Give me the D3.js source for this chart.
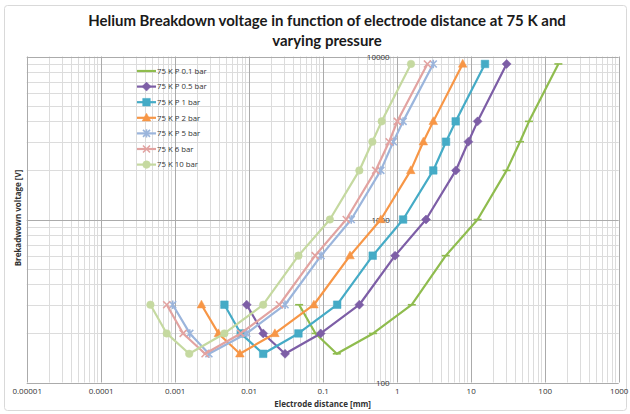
<!DOCTYPE html>
<html>
<head>
<meta charset="utf-8">
<script src="https://cdn.jsdelivr.net/npm/d3@7"></script>
<style>
body { margin: 0; background: #fff; }
svg { font-family: "Open Sans", "Noto Sans", sans-serif; }
</style>
</head>
<body>
<div id="chart"></div>
<script>
// breakdown voltage levels shared by every series [V]
var voltages = [300, 200, 150, 200, 300, 600, 1000, 2000, 3000, 4000, 9000];

// electrode distance [mm] per series
var dist01 = [0.048, 0.08, 0.155, 0.48, 1.6, 4.6, 12.4, 30.6, 46.4, 61.4, 153];
var dist05 = [0.0094, 0.0157, 0.031, 0.094, 0.313, 0.95, 2.49, 6.3, 9.3, 12.4, 30.6];
var dist1 = [0.0047, 0.0078, 0.0157, 0.047, 0.157, 0.474, 1.22, 3.12, 4.64, 6.27, 15.6];
var dist2 = [0.0023, 0.0039, 0.0076, 0.0226, 0.076, 0.234, 0.61, 1.55, 2.29, 3.12, 7.8];
var dist5 = [0.00094, 0.0016, 0.0029, 0.0094, 0.031, 0.095, 0.243, 0.61, 0.9, 1.22, 3.12];
var dist6 = [0.00078, 0.0013, 0.00257, 0.0078, 0.026, 0.079, 0.208, 0.52, 0.79, 1.02, 2.6];
var dist10 = [0.00047, 0.00078, 0.00157, 0.0047, 0.0157, 0.047, 0.125, 0.313, 0.469, 0.627, 1.56];

var seriesNames = ["75 K P 0.1 bar", "75 K P 0.5 bar", "75 K P 1 bar", "75 K P 2 bar",
    "75 K P 5 bar", "75 K 6 bar", "75 K 10 bar"];
var seriesDist = [dist01, dist05, dist1, dist2, dist5, dist6, dist10];
var seriesColors = ["#8fbc4e", "#7d5ea6", "#45abc6", "#f79646", "#9bb5dc", "#e2a3a1", "#c5d9a0"];
var seriesMarkers = ["dash", "diamond", "square", "triangle", "asterisk", "times", "circle"];

var xTicks = [0.00001, 0.0001, 0.001, 0.01, 0.1, 1, 10, 100, 1000];
var xTickLabels = ["0.00001", "0.0001", "0.001", "0.01", "0.1", "1", "10", "100", "1000"];
var yTicks = [100, 1000, 10000];
var yTickLabels = ["100", "1000", "10000"];

var W = 630, H = 414;
var plot = { left: 26.7, right: 618.7, top: 56.5, bottom: 382.5 };

var x = d3.scaleLog().domain([0.00001, 1000]).range([plot.left, plot.right]);
var y = d3.scaleLog().domain([100, 10000]).range([plot.bottom, plot.top]);

var svg = d3.select("#chart")
    .append("svg")
    .attr("width", W)
    .attr("height", H);

// chart border
svg.append("rect")
    .attr("x", 4.5)
    .attr("y", 5.5)
    .attr("width", 622)
    .attr("height", 405)
    .attr("rx", 3)
    .attr("fill", "#fff")
    .attr("stroke", "#d9d9d9");

// title, scaled to the width it has in the picture
var title = svg.append("text")
    .attr("text-anchor", "middle")
    .attr("font-family", "Lato, Open Sans, sans-serif")
    .attr("font-weight", "bold")
    .attr("font-size", 15)
    .attr("fill", "#1a1a1a");
var t1 = title.append("tspan").attr("x", 327).attr("y", 26)
    .text("Helium Breakdown voltage in function of electrode distance at 75 K and");
title.append("tspan").attr("x", 327).attr("y", 46)
    .text("varying pressure");
var tw = t1.node().getComputedTextLength();
if (tw > 0) title.attr("font-size", 15 * 478 / tw);

// grid lines
function minorValues(lo, hi) {
    var out = [];
    for (var e = lo; e < hi; e++) {
        for (var m = 2; m <= 9; m++) out.push(m * Math.pow(10, e));
    }
    return out;
}
var grid = svg.append("g");
grid.selectAll(".vminor")
    .data(minorValues(-5, 3))
    .enter().append("line")
    .attr("x1", function (d) { return Math.round(x(d)) + 0.5; })
    .attr("x2", function (d) { return Math.round(x(d)) + 0.5; })
    .attr("y1", plot.top)
    .attr("y2", plot.bottom)
    .attr("stroke", "#dcdcdc");
grid.selectAll(".hminor")
    .data(minorValues(2, 4))
    .enter().append("line")
    .attr("y1", function (d) { return Math.round(y(d)) + 0.5; })
    .attr("y2", function (d) { return Math.round(y(d)) + 0.5; })
    .attr("x1", plot.left)
    .attr("x2", plot.right)
    .attr("stroke", "#dcdcdc");
grid.selectAll(".vmajor")
    .data(xTicks)
    .enter().append("line")
    .attr("x1", function (d) { return Math.round(x(d)) + 0.5; })
    .attr("x2", function (d) { return Math.round(x(d)) + 0.5; })
    .attr("y1", plot.top)
    .attr("y2", plot.bottom)
    .attr("stroke", "#ababab");
grid.selectAll(".hmajor")
    .data(yTicks)
    .enter().append("line")
    .attr("y1", function (d) { return Math.round(y(d)) + 0.5; })
    .attr("y2", function (d) { return Math.round(y(d)) + 0.5; })
    .attr("x1", plot.left)
    .attr("x2", plot.right)
    .attr("stroke", "#ababab");

// axes
var xAxis = d3.axisBottom(x)
    .tickValues(xTicks)
    .tickFormat(function (d, i) { return xTickLabels[i]; })
    .tickSize(0)
    .tickPadding(6);
var gx = svg.append("g")
    .attr("transform", "translate(0," + plot.bottom + ")")
    .call(xAxis);
gx.select(".domain").remove();
gx.selectAll("text")
    .attr("font-family", "Open Sans, sans-serif")
    .attr("font-size", 8)
    .attr("fill", "#333");

var yAxis = d3.axisLeft(y)
    .tickValues(yTicks)
    .tickFormat(function (d, i) { return yTickLabels[i]; })
    .tickSize(0)
    .tickPadding(7);
var gy = svg.append("g")
    .attr("transform", "translate(" + x(1) + ",0)")
    .call(yAxis);
gy.select(".domain").remove();
gy.selectAll("text")
    .attr("font-family", "Open Sans, sans-serif")
    .attr("font-size", 8)
    .attr("fill", "#333");

svg.append("text")
    .attr("x", (plot.left + plot.right) / 2)
    .attr("y", 407)
    .attr("text-anchor", "middle")
    .attr("font-size", 8)
    .attr("font-weight", "bold")
    .attr("fill", "#333")
    .text("Electrode distance [mm]");

svg.append("text")
    .attr("transform", "translate(21,218) rotate(-90)")
    .attr("text-anchor", "middle")
    .attr("font-size", 8)
    .attr("font-weight", "bold")
    .attr("fill", "#333")
    .text("Brekadwown voltage [V]");

// markers
function markerPath(type) {
    if (type == "diamond") return "M0,-4.5L4.5,0L0,4.5L-4.5,0Z";
    if (type == "square") return "M-3.8,-3.8H3.8V3.8H-3.8Z";
    if (type == "triangle") return "M0,-4.6L4.3,3.2H-4.3Z";
    if (type == "circle") return "M3.8,0A3.8,3.8 0 1,1 -3.8,0A3.8,3.8 0 1,1 3.8,0Z";
    if (type == "times") return "M-3.5,-3.5L3.5,3.5M-3.5,3.5L3.5,-3.5";
    if (type == "asterisk") return "M-3.5,-3.5L3.5,3.5M-3.5,3.5L3.5,-3.5M0,-4.2V4.2";
    return "M-4,0H4";
}
function drawMarker(sel, type, color) {
    var filled = type == "diamond" || type == "square" || type == "triangle" || type == "circle";
    sel.attr("d", markerPath(type))
        .attr("fill", filled ? color : "none")
        .attr("stroke", color)
        .attr("stroke-width", filled ? 0.5 : 1.6);
}

var line = d3.line()
    .x(function (d) { return x(d.d); })
    .y(function (d) { return y(d.v); });

var seriesData = seriesDist.map(function (dist) {
    return dist.map(function (d, i) { return { d: d, v: voltages[i] }; });
});

var series = svg.append("g")
    .selectAll("g")
    .data(seriesData)
    .enter().append("g");

series.append("path")
    .attr("d", line)
    .attr("fill", "none")
    .attr("stroke", function (d, i) { return seriesColors[i]; })
    .attr("stroke-width", 2.2)
    .attr("stroke-linejoin", "round");

series.each(function (pts, i) {
    d3.select(this).selectAll(".m")
        .data(pts)
        .enter().append("path")
        .attr("transform", function (d) { return "translate(" + x(d.d) + "," + y(d.v) + ")"; })
        .call(drawMarker, seriesMarkers[i], seriesColors[i]);
});

// legend
var legend = svg.append("g")
    .selectAll("g")
    .data(seriesNames)
    .enter().append("g")
    .attr("transform", function (d, i) { return "translate(137," + (71 + i * 15.6) + ")"; });
legend.append("line")
    .attr("x1", 0)
    .attr("x2", 19)
    .attr("stroke", function (d, i) { return seriesColors[i]; })
    .attr("stroke-width", 2.2);
legend.filter(function (d, i) { return seriesMarkers[i] != "dash"; })
    .append("path")
    .attr("transform", "translate(9.5,0)")
    .each(function (d) {
        var i = seriesNames.indexOf(d);
        d3.select(this).call(drawMarker, seriesMarkers[i], seriesColors[i]);
    });
legend.append("text")
    .attr("x", 20)
    .attr("dy", "0.35em")
    .attr("font-size", 7.8)
    .attr("fill", "#333")
    .text(function (d) { return d; });
</script>
</body>
</html>
